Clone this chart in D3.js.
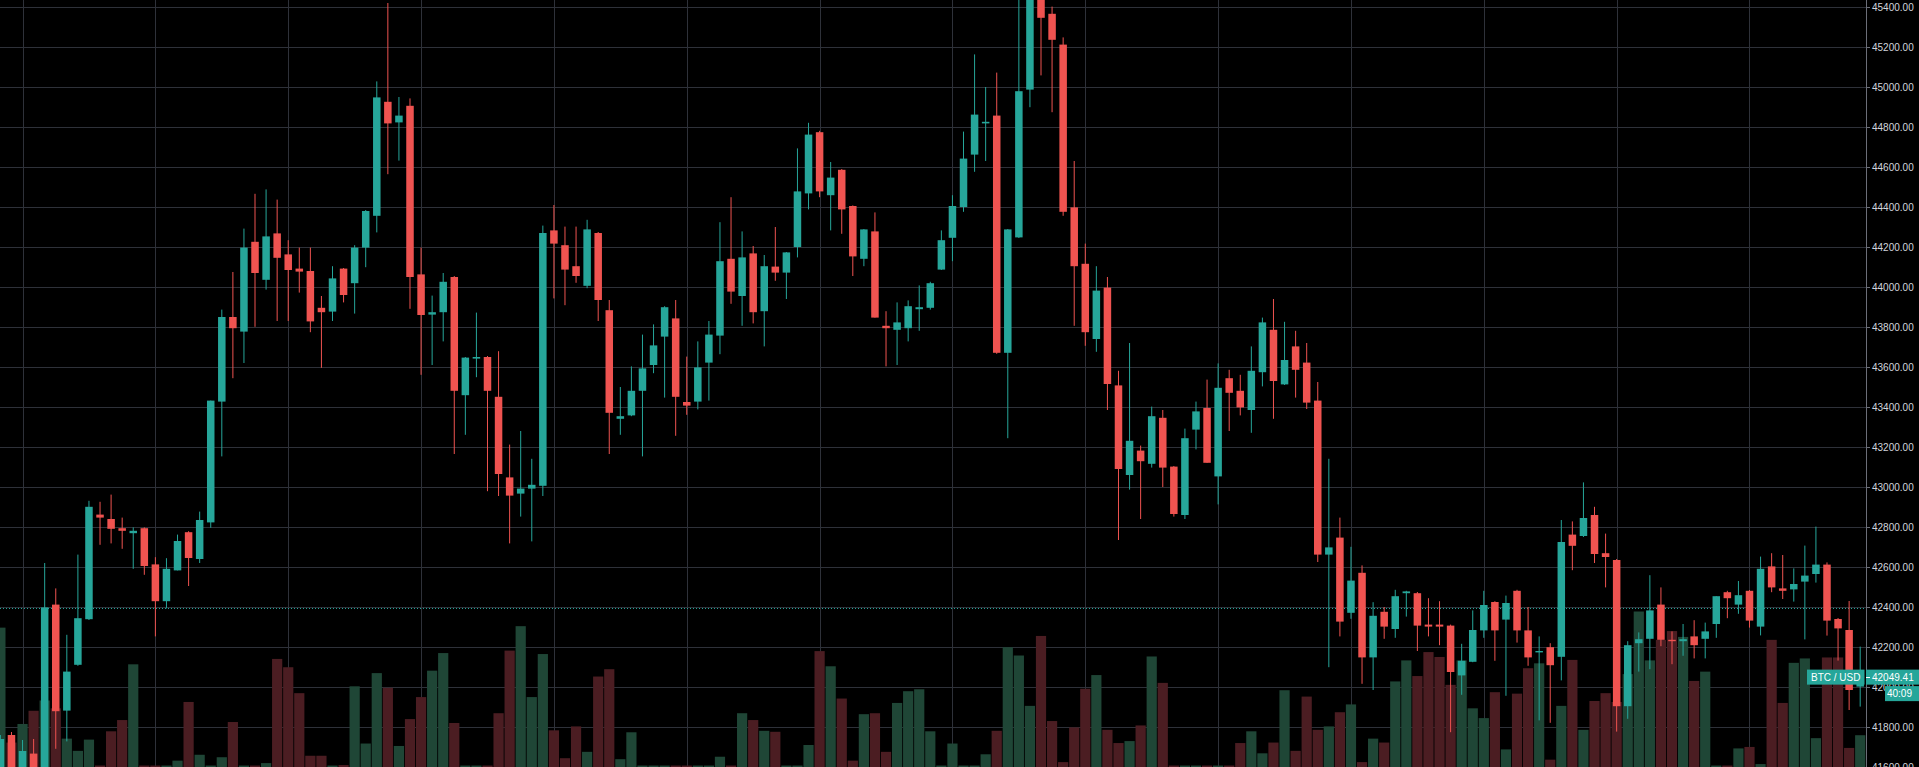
<!DOCTYPE html>
<html><head><meta charset="utf-8">
<script src="https://cdn.jsdelivr.net/npm/d3@7"></script>
<style>html,body{margin:0;padding:0;background:#000;overflow:hidden}</style>
</head><body><svg id="c" width="1919" height="767"></svg>
<script>
const opens=[41560,41760,41560,41667,41560,42412,41882,42111,42339,42862,
42840,42794,42769,42794,42613,42429,42583,42774,42640,42823,
43427,43850,43777,44226,44036,44268,44163,44092,44080,43896,
43877,44092,44019,44197,44356,44926,44823,44906,44063,43862,
43874,44050,43459,43642,43650,43451,43048,42967,42992,43006,
44283,44209,44104,44006,44270,43884,43341,43358,43481,43610,
43752,43843,43425,43427,43622,43757,44141,43955,44168,43879,
44102,44072,44200,44468,44774,44459,44586,44405,44141,44278,
43806,43786,43794,43889,43896,44087,44246,44400,44662,44818,
44857,43671,44248,44987,45500,45366,45212,44398,44116,43740,
43997,43508,43060,43182,43116,43346,43102,42860,43287,43395,
43053,43544,43481,43385,43574,43786,43513,43703,43622,43432,
42662,42747,42371,42571,42148,42376,42290,42469,42469,42312,
42312,42307,42058,42126,42283,42425,42337,42481,42283,42173,
42199,42151,42762,42755,42860,42669,42635,41904,42219,42241,
42412,42236,42229,42253,42241,42315,42474,42412,42481,42302,
42603,42493,42488,42527,42565,42612,42340,42285,42002];
const highs=[41760,41775,41735,41740,42620,42493,42261,42662,42931,42926,
42962,42847,42798,42798,42649,42644,42762,42779,42877,43432,
43887,44075,44292,44466,44488,44437,44234,44197,44197,43955,
44104,44095,44209,44385,45028,45420,44950,44943,44197,43957,
44070,44055,43650,43872,43655,43679,43212,43280,43141,44307,
44410,44302,44302,44336,44275,43935,43500,43603,43762,43813,
43904,43935,43652,43728,43830,44324,44449,44278,44205,44160,
44300,44175,44693,44821,44781,44625,44590,44408,44290,44373,
43879,43923,43933,44008,44026,44283,44459,44777,45163,45000,
45072,44290,45450,45550,45560,45402,45248,44630,44217,44104,
44050,43581,43720,43207,43402,43385,43105,43292,43427,43537,
43618,43586,43561,43703,43847,43940,43826,43781,43720,43525,
43141,42847,42701,42608,42424,42400,42486,42481,42475,42444,
42429,42312,42216,42383,42481,42429,42457,42486,42400,42253,
42219,42835,42828,43023,42901,42767,42640,42229,42273,42559,
42498,42278,42315,42334,42322,42454,42481,42530,42485,42652,
42669,42660,42593,42707,42802,42623,42345,42430,42202];
const lows=[41500,41500,41500,41500,41500,41691,41728,42106,42335,42711,
42718,42691,42591,42561,42253,42393,42583,42505,42620,42796,
43153,43544,43620,43801,43987,43830,43830,43972,43774,43596,
43830,43923,43867,44099,44273,44564,44632,43891,43561,43610,
43728,43165,43261,43549,42979,42955,42718,42852,42728,42955,
43943,43909,44021,43994,43830,43165,43261,43354,43153,43569,
43447,43256,43361,43388,43432,43664,43916,43806,43818,43703,
44031,43940,44148,44388,44449,44283,44266,44055,44104,43847,
43603,43610,43728,43781,43887,44085,44129,44376,44576,44630,
43666,43244,44245,44899,45058,44874,44356,43806,43706,43676,
43385,42735,42987,42840,43097,43000,42852,42840,43188,43121,
42913,43280,43358,43271,43503,43341,43510,43447,43390,42625,
42099,42253,42341,42016,41985,42241,42246,42352,42180,42253,
42209,41774,41961,42124,42246,42131,41956,42222,42106,41833,
41821,42033,42584,42750,42620,42498,41777,41841,42077,42089,
42204,42114,42156,42143,42143,42246,42344,42366,42297,42258,
42474,42440,42427,42238,42522,42257,42132,41885,41902];
const closes=[41740,41560,41680,41580,42398,41879,42077,42344,42901,42847,
42791,42781,42781,42605,42429,42591,42730,42645,42835,43432,
43850,43794,44197,44070,44253,44146,44085,44077,43828,43874,
44043,43960,44197,44380,44948,44818,44857,44050,43860,43874,
44026,43481,43647,43650,43481,43065,42957,42992,43011,44270,
44217,44087,44055,44288,43935,43371,43354,43481,43593,43708,
43899,43451,43407,43598,43762,44129,43977,44148,43874,44104,
44072,44173,44478,44762,44478,44547,44388,44153,44288,43847,
43794,43823,43904,43899,44019,44234,44405,44642,44862,44826,
43671,44288,44979,45480,45346,45236,44376,44104,43774,43982,
43515,43090,43231,43129,43354,43097,42865,43244,43378,43121,
43496,43471,43398,43581,43823,43530,43635,43586,43422,42662,
42698,42327,42532,42148,42356,42302,42454,42478,42307,42302,
42302,42075,42131,42285,42410,42283,42420,42283,42148,42180,
42109,42725,42706,42845,42665,42650,41904,42209,42239,42383,
42236,42229,42239,42209,42278,42454,42444,42459,42332,42591,
42498,42481,42515,42557,42612,42332,42293,41985,42049.41];
const volumes=[285,50,88,115,136,120,58,33,56,3,
73,96,210,3,3,3,13,133,25,3,
20,92,3,3,8,221,204,151,23,23,
3,4,165,48,192,162,43,98,143,197,
233,90,3,3,3,110,238,288,143,231,
75,18,83,31,185,200,16,71,3,3,
3,3,3,3,3,21,3,110,96,74,
72,3,3,45,237,206,140,13,108,110,
31,131,155,159,73,3,48,3,3,26,
74,245,228,125,268,94,10,81,160,188,
76,49,53,85,226,172,3,3,3,3,
3,3,49,73,28,50,157,33,144,76,
83,112,128,10,58,50,175,218,186,235,
225,168,218,120,100,153,36,150,202,212,
15,125,219,76,135,151,133,190,318,218,
260,278,266,176,195,3,3,38,41,6,
260,131,213,222,59,224,224,39,65];
const priceTicks=[41600,41800,42000,42200,42400,42600,42800,43000,43200,43400,43600,43800,44000,44200,44400,44600,44800,45000,45200,45400];
const timeGridIdx=[2,14,26,38,50,62,74,86,98,110,122,134,146,158];
const symbolLabel="BTC / USD";
const countdown="40:09";
const refLine=42395;

const W=1919,H=767,axisX=1866;
const UP="#26a69a",DOWN="#ef5350",VUP="#1f4636",VDOWN="#4b1d22",GRID="#2e3139";
const data=opens.map((o,i)=>({i,o,h:highs[i],l:lows[i],c:closes[i],v:volumes[i]}));
const svg=d3.select("#c");
svg.append("rect").attr("width",W).attr("height",H).attr("fill","#000");
const x=d3.scaleLinear().domain([0,168]).range([0.4,1860.2]);
const y=d3.scaleLinear().domain([41600,45400]).range([767,7]);
const yv=d3.scaleLinear().domain([0,320]).range([767,767-320*0.489]);
svg.append("clipPath").attr("id","pc").append("rect").attr("x",0).attr("y",0).attr("width",axisX).attr("height",H);
const plot=svg.append("g").attr("clip-path","url(#pc)");
// grid
plot.append("g").selectAll("line").data(priceTicks).join("line")
  .attr("x1",0).attr("x2",axisX).attr("y1",d=>Math.round(y(d))+0.5).attr("y2",d=>Math.round(y(d))+0.5)
  .attr("stroke",GRID).attr("stroke-width",1);
plot.append("g").selectAll("line").data(timeGridIdx).join("line")
  .attr("y1",0).attr("y2",H).attr("x1",d=>Math.round(x(d))+0.5).attr("x2",d=>Math.round(x(d))+0.5)
  .attr("stroke",GRID).attr("stroke-width",1);
// volume
const vw=10.2;
plot.append("g").selectAll("rect").data(data).join("rect")
  .attr("x",d=>x(d.i)-vw/2).attr("width",vw)
  .attr("y",d=>yv(d.v)).attr("height",d=>H-yv(d.v))
  .attr("fill",d=>d.c>=d.o?VUP:VDOWN);
// reference dotted line
plot.append("line").attr("x1",0).attr("x2",axisX).attr("y1",Math.round(y(refLine))+0.5).attr("y2",Math.round(y(refLine))+0.5)
  .attr("stroke",UP).attr("stroke-width",1).attr("stroke-dasharray","1,2");
// candles
const cg=plot.append("g").selectAll("g").data(data).join("g");
cg.append("line").attr("x1",d=>x(d.i)).attr("x2",d=>x(d.i))
  .attr("y1",d=>y(d.h)).attr("y2",d=>y(d.l))
  .attr("stroke",d=>d.c>=d.o?UP:DOWN).attr("stroke-width",1);
const bw=7.5;
cg.append("rect").attr("x",d=>x(d.i)-bw/2).attr("width",bw)
  .attr("y",d=>y(Math.max(d.o,d.c)))
  .attr("height",d=>Math.max(1.2,Math.abs(y(d.o)-y(d.c))))
  .attr("fill",d=>d.c>=d.o?UP:DOWN);
// axis
svg.append("line").attr("x1",axisX+0.5).attr("x2",axisX+0.5).attr("y1",0).attr("y2",H).attr("stroke","#6b6e78");
const fmt=d3.format(".2f");
const ax=svg.append("g");
ax.selectAll("line").data(priceTicks).join("line")
  .attr("x1",axisX).attr("x2",axisX+4).attr("y1",d=>Math.round(y(d))+0.5).attr("y2",d=>Math.round(y(d))+0.5)
  .attr("stroke","#6b6e78");
ax.selectAll("text").data(priceTicks).join("text")
  .attr("x",axisX+6).attr("y",d=>y(d)).attr("dy","0.35em")
  .attr("fill","#d1d4dc").attr("font-family","'Liberation Sans',Arial,sans-serif").attr("font-size",10)
  .text(d=>fmt(d));
// last price labels
const last=closes[closes.length-1];
const ly=y(last);
svg.append("rect").attr("x",1807).attr("y",ly-7.5).attr("width",57.5).attr("height",15).attr("fill",UP);
svg.append("text").attr("x",1835.7).attr("y",ly).attr("dy","0.35em").attr("text-anchor","middle")
  .attr("fill","#fff").attr("font-family","'Liberation Sans',Arial,sans-serif").attr("font-size",10).text(symbolLabel);
svg.append("rect").attr("x",axisX).attr("y",ly-7.5).attr("width",W-axisX).attr("height",15).attr("fill",UP);
svg.append("line").attr("x1",axisX).attr("x2",axisX+4).attr("y1",Math.round(ly)+0.5).attr("y2",Math.round(ly)+0.5).attr("stroke","#fff");
svg.append("text").attr("x",axisX+6).attr("y",ly).attr("dy","0.35em")
  .attr("fill","#fff").attr("font-family","'Liberation Sans',Arial,sans-serif").attr("font-size",10).text(fmt(last));
svg.append("rect").attr("x",1885).attr("y",ly+9).attr("width",W-1885).attr("height",15).attr("fill",UP);
svg.append("text").attr("x",1912).attr("y",ly+16.5).attr("dy","0.35em").attr("text-anchor","end")
  .attr("fill","#fff").attr("font-family","'Liberation Sans',Arial,sans-serif").attr("font-size",10).text(countdown);
</script></body></html>
